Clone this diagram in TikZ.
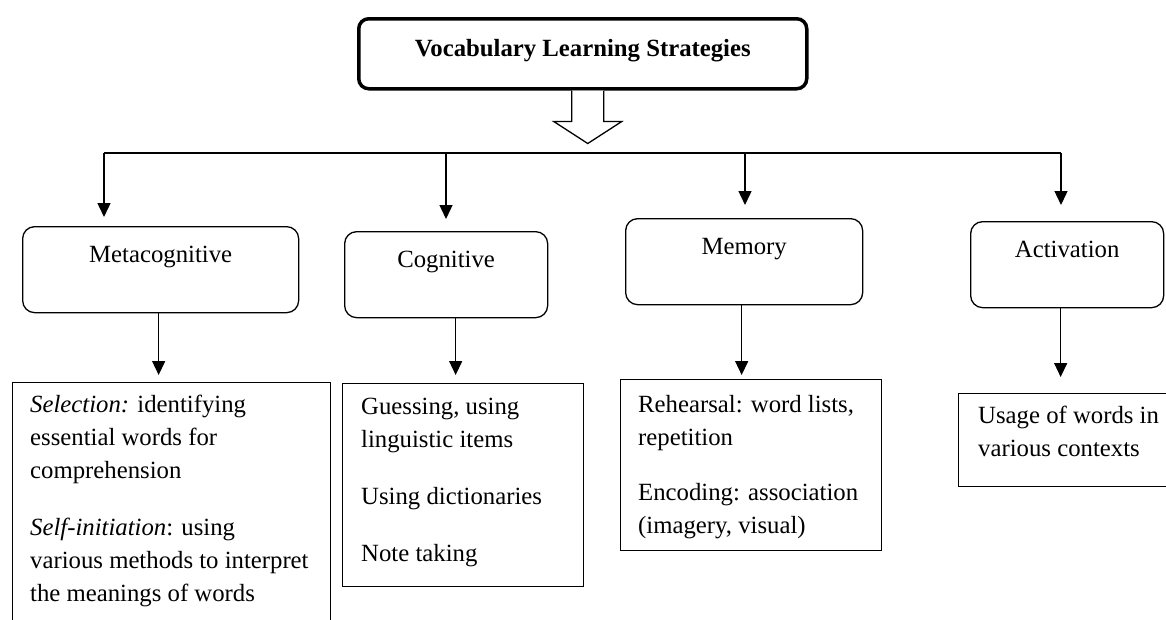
\documentclass[tikz,border=0pt]{standalone}
\usepackage{fontspec}
\setmainfont{Liberation Serif}
\usetikzlibrary{arrows.meta,positioning}

\tikzset{
  catbox/.style={draw, line width=1.3pt, rounded corners=12pt, anchor=north west,
    inner sep=0pt, text height=36pt, text depth=50pt},
  listbox/.style={draw, line width=1.3pt, anchor=north west, inner sep=0pt},
  listtext/.style={anchor=base west, align=left, inner sep=0pt},
  down/.style={line width=1.4pt, -{Triangle[width=13pt,length=14pt]}},
}

\begin{document}
\begin{tikzpicture}[x=1pt, y=-1pt, font=\fontsize{24.75pt}{33pt}\selectfont]
\useasboundingbox (0,0) rectangle (1166,619);
\clip (0,0) rectangle (1166,619);

\node[draw, line width=3.5pt, rounded corners=10pt, anchor=north west, inner sep=0pt,
  minimum width=448pt, text height=38pt, text depth=32pt] (vls) at (357,17)
  {\textbf{Vocabulary Learning Strategies}};

% hollow arrow under the title
\draw[line width=1.3pt, fill=white] ([xshift=-11pt]vls.south) -- ++(0,31) -- ++(-18,0)
  -- ++(34,22) -- ++(34,-22) -- ++(-18,0) -- ++(0,-31);

\node[catbox, minimum width=276pt] (meta) at (22,226) {Metacognitive};
\node[catbox, minimum width=203pt] (cog) at (344,231) {Cognitive};
\node[catbox, minimum width=237pt] (mem) at (625,218) {Memory};
\node[catbox, minimum width=193pt] (act) at (970,221) {Activation};

\coordinate (b1) at (104,153);
\coordinate (b2) at (446,153);
\coordinate (b3) at (745,153);
\coordinate (b4) at (1061,153);
\draw[line width=1.4pt] (b1) -- (b4);
\foreach \b/\n/\g in {b1/meta/9, b2/cog/12, b3/mem/13, b4/act/16}
  \draw[down, shorten >=\g pt] (\b) -- (\b |- \n.north);

\node[listbox, minimum width=318pt, minimum height=260pt] (lmeta) at (12,382) {};
\node[listbox, minimum width=241pt, minimum height=203pt] (lcog) at (342,383) {};
\node[listbox, minimum width=261pt, minimum height=171pt] (lmem) at (620,379) {};
\node[listbox, minimum width=240pt, minimum height=93pt] (lact) at (958,393) {};

\foreach \n/\s/\g in {meta/-2/7, cog/9.5/8, mem/-2.5/4, act/-6.5/16}
  \draw[down, shorten >=\g pt] ([xshift=\s pt]\n.south) -- ([xshift=\s pt]\n.south |- l\n.north);

% base of a list text = baseline of its last line
\node[listtext] (metatext) at (30,601) {\textit{Selection:} identifying\\essential words for\\comprehension\\[24pt]%
  \textit{Self-initiation}: using\\various methods to interpret\\the meanings of words};
\node[listtext] (cogtext) at (361,561) {Guessing, using\\linguistic items\\[24pt]Using dictionaries\\[24pt]Note taking};
\node[listtext] (memtext) at (638,533) {Rehearsal: word lists,\\repetition\\[22pt]Encoding: association\\(imagery, visual)};
\node[listtext] (acttext) at (978,456) {Usage of words in\\various contexts};

\end{tikzpicture}
\end{document}
